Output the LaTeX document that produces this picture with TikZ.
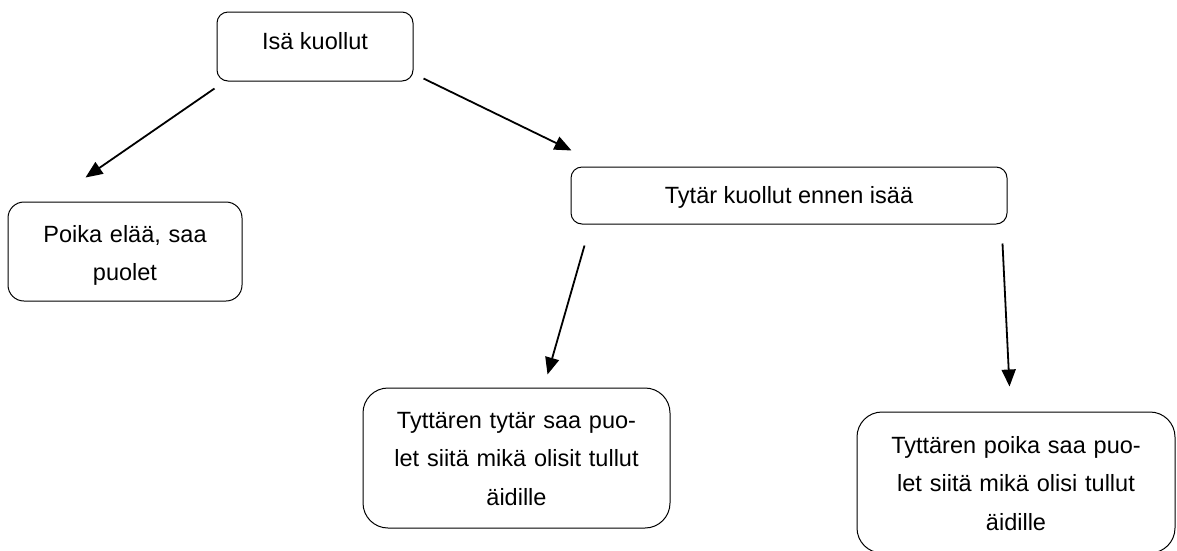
\documentclass[tikz,border=0pt]{standalone}
\usepackage{fontspec}
\setmainfont{Liberation Sans}
\usetikzlibrary{arrows.meta}
\begin{document}
\begin{tikzpicture}[x=1pt,y=-1pt,
  box/.style={draw=black, line width=1pt, inner sep=0pt},
  lbl/.style={font=\fontsize{23.5}{38.5}\selectfont, align=center, anchor=base, inner sep=0pt},
  arr/.style={line width=1.8pt, -{Triangle[length=17pt,width=14pt]}}]
\clip (0,0) rectangle (1177,550);
\fill[white] (0,0) rectangle (1177,550);
% boxes
\node[box, rounded corners=11pt, minimum width=196pt, minimum height=69pt] (isa) at (315,46.5) {};
\node[box, rounded corners=16pt, minimum width=234pt, minimum height=99pt] (poika) at (125,251.5) {};
\node[box, rounded corners=11pt, minimum width=436pt, minimum height=57pt] (tytar) at (789,195.5) {};
\node[box, rounded corners=25pt, minimum width=307pt, minimum height=140pt] (tt) at (516.5,458) {};
\node[box, rounded corners=25pt, minimum width=318pt, minimum height=141pt] (tp) at (1016,482.5) {};
% texts
\node[lbl] (isaT) at (315,49) {Isä kuollut};
\node[lbl, text width=224pt] (poikaT) at (125,242) {Poika elää, saa\\puolet};
\node[lbl] (tytarT) at (789,203) {Tytär kuollut ennen isää};
\node[lbl, text width=297pt] (ttT) at (516.5,428) {Tyttären tytär saa puo-\\let siitä mikä olisit tullut\\äidille};
\node[lbl, text width=308pt] (tpT) at (1016,453) {Tyttären poika saa puo-\\let siitä mikä olisi tullut\\äidille};
% connectors
\draw[arr] ([shift={(-2,7)}]isa.south west) -- ([shift={(78,-24)}]poika.north west);
\draw[arr] ([shift={(10,-3)}]isa.south east) -- ([shift={(1,-16)}]tytar.north west);
\draw[arr] ([shift={(14,21)}]tytar.south west) -- ([shift={(185,-13)}]tt.north west);
\draw[arr] ([shift={(-5,19)}]tytar.south east) -- ([shift={(153,-25)}]tp.north west);
\end{tikzpicture}
\end{document}
